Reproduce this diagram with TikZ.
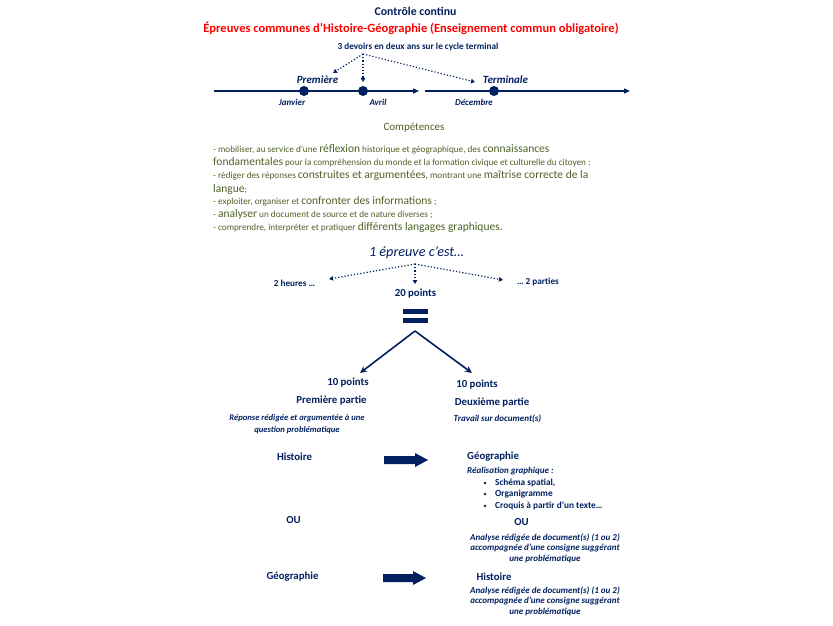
\documentclass[tikz,border=0pt]{standalone}
\usepackage{fontspec}
\setmainfont{Carlito}
\usetikzlibrary{arrows.meta}
\definecolor{navy}{HTML}{002060}
\definecolor{olivegreen}{HTML}{4F6228}
\definecolor{titlered}{HTML}{FF0000}
\newcommand\fsz[1]{\fontsize{#1}{#1}\selectfont}
\newcommand\smf{\fontsize{9.2}{9.5}\selectfont}
\newcommand\lgf{\fontsize{11.5}{12}\selectfont}
\tikzset{
  lbl/.style={inner sep=0pt, text=navy, font=\fsz{#1}},
  lblb/.style={inner sep=0pt, text=navy, font=\fsz{#1}\bfseries},
  lblbi/.style={inner sep=0pt, text=navy, font=\fsz{#1}\bfseries\itshape},
  lbli/.style={inner sep=0pt, text=navy, font=\fsz{#1}\itshape},
  comp/.style={inner sep=0pt, text=olivegreen, anchor=base west, font=\smf},
  dotarrow/.style={navy, dotted, line width=1.2pt, -{Triangle[length=4pt,width=4.5pt]}},
  timeline/.style={navy, line width=1.2pt, -{Triangle[length=6pt,width=5pt]}},
  evt/.style={circle, fill=navy, minimum size=10pt, inner sep=0pt},
  splitarrow/.style={navy, line width=1.6pt, -{Stealth[length=7pt,width=6.5pt]}},
  blockarrow/.style={fill=navy, draw=none},
  eqbar/.style={rectangle, fill=navy, draw=none, minimum width=25pt, minimum height=5pt, inner sep=0pt}
}
\begin{document}
\begin{tikzpicture}[x=1pt,y=-1pt]
\useasboundingbox[fill=white] (0,0) rectangle (833,626);

% titles
\node[lblb=11.8] (t1) at (415.5,11) {Contrôle continu};
\node[lblb=12.5, text=titlered] (t2) at (411,28) {Épreuves communes d’Histoire-Géographie (Enseignement commun obligatoire)};
\node[lblb=9.2] (dev) at (418,47) {3 devoirs en deux ans sur le cycle terminal};

% timeline
\coordinate (l1s) at (214,91);
\coordinate (l1e) at (419,91);
\coordinate (l2s) at (425,91);
\coordinate (l2e) at (630,91);
\draw[timeline] (l1s) -- (l1e);
\draw[timeline] (l2s) -- (l2e);
\node[evt] (jan) at (304,91) {};
\node[evt] (avr) at (363,91) {};
\node[evt] (dec) at (494,91) {};
\node[lblbi=11] (prem) at (317.5,80) {Première};
\node[lblbi=11] (term) at (505.5,80) {Terminale};
\node[lblbi=9] (janl) at (292,102) {Janvier};
\node[lblbi=9] (avrl) at (378,102) {Avril};
\node[lblbi=9] (decl) at (474,102) {Décembre};

\coordinate (dvo) at (363,54);
\coordinate (dva) at (333,73);
\coordinate (dvb) at (363,82);
\coordinate (dvc) at (475,82);
\draw[dotarrow] (dvo) -- (dva);
\draw[dotarrow] (dvo) -- (dvb);
\draw[dotarrow] (dvo) -- (dvc);

% competences
\node[lbl=11, text=olivegreen] (compt) at (414,128) {Compétences};
\node[comp] (c1) at (213,152) {- mobiliser, au service d'une {\lgf réflexion} historique et géographique, des {\lgf connaissances}};
\node[comp] (c2) at (213,165) {{\lgf fondamentales} pour la compréhension du monde et la formation civique et culturelle du citoyen ;};
\node[comp] (c3) at (213,178) {- rédiger des réponses {\lgf construites et argumentées}, montrant une {\lgf maîtrise correcte de la}};
\node[comp] (c4) at (213,192) {{\lgf langue};};
\node[comp] (c5) at (213,204) {- exploiter, organiser et {\lgf confronter des informations} ;};
\node[comp] (c6) at (213,217) {- {\lgf analyser} un document de source et de nature diverses ;};
\node[comp] (c7) at (213,230) {- comprendre, interpréter et pratiquer {\lgf différents langages graphiques.}};

% epreuve
\node[lbli=14.2] (ep) at (416.5,253) {1 épreuve c’est…};
\coordinate (epo) at (415,264);
\coordinate (epa) at (329,279);
\coordinate (epb) at (415,284);
\coordinate (epc) at (503,280);
\draw[dotarrow] (epo) -- (epa);
\draw[dotarrow] (epo) -- (epb);
\draw[dotarrow] (epo) -- (epc);
\node[lblb=9.2] (heures) at (294.5,283) {2 heures …};
\node[lblb=9.2] (parties) at (538,282) {… 2 parties};
\node[lblb=10.8] (vingt) at (415.5,294) {20 points};
\node[eqbar] (eq1) at (415.5,311.5) {};
\node[eqbar] (eq2) at (415.5,320.5) {};
\coordinate (split) at (415,331);
\coordinate (spa) at (360,373);
\coordinate (spb) at (472,373);
\draw[splitarrow] (split) -- (spa);
\draw[splitarrow] (split) -- (spb);

% parts
\node[lblb=10.8] (dix1) at (348,383) {10 points};
\node[lblb=10.8] (p1) at (331.5,401) {Première partie};
\node[lblbi=8.6, align=center] (p1d) at (297,424) {Réponse rédigée et argumentée à une\\[3pt]question problématique};
\node[lblb=10.8] (dix2) at (477,385) {10 points};
\node[lblb=10.8] (p2) at (492,403) {Deuxième partie};
\node[lblbi=9] (p2d) at (497.5,419) {Travail sur document(s)};

% Histoire -> Geographie
\node[lblb=10.8] (hist1) at (294.5,457) {Histoire};
\coordinate (ba1) at (384,460);
\fill[blockarrow] (ba1) ++(0,-4) -- ++(31,0) -- ++(0,-3) -- ++(13,7) -- ++(-13,7) -- ++(0,-3) -- ++(-31,0) -- cycle;
\node[lblb=10.8, anchor=west] (geo1) at (467,457) {Géographie};
\node[lblbi=9, anchor=west] (real) at (467,471) {Réalisation graphique :};
\node[lblb=9.3, anchor=west] (b1) at (495,483) {Schéma spatial,};
\node[lblb=9.3, anchor=west] (b2) at (495,494) {Organigramme};
\node[lblb=9.3, anchor=west] (b3) at (495,506) {Croquis à partir d’un texte…};
\foreach \n in {b1,b2,b3} \fill[navy] ([xshift=-10pt]\n.west) circle (1.4pt);
\node[lblb=10.8] (ou1) at (293.5,520) {OU};
\node[lblb=10.8] (ou2) at (521.5,522) {OU};
\node[lblbi=9, align=center] (an1) at (545,548) {Analyse rédigée de document(s) (1 ou 2)\\[1.5pt]accompagnée d’une consigne suggérant\\[1.5pt]une problématique};

% Geographie -> Histoire
\node[lblb=10.8] (geo2) at (292.5,577) {Géographie};
\coordinate (ba2) at (383,578);
\fill[blockarrow] (ba2) ++(0,-4) -- ++(30,0) -- ++(0,-3) -- ++(13,7) -- ++(-13,7) -- ++(0,-3) -- ++(-30,0) -- cycle;
\node[lblb=10.8] (hist2) at (494,577) {Histoire};
\node[lblbi=9, align=center] (an2) at (545,601) {Analyse rédigée de document(s) (1 ou 2)\\[1.5pt]accompagnée d’une consigne suggérant\\[1.5pt]une problématique};
\end{tikzpicture}
\end{document}
